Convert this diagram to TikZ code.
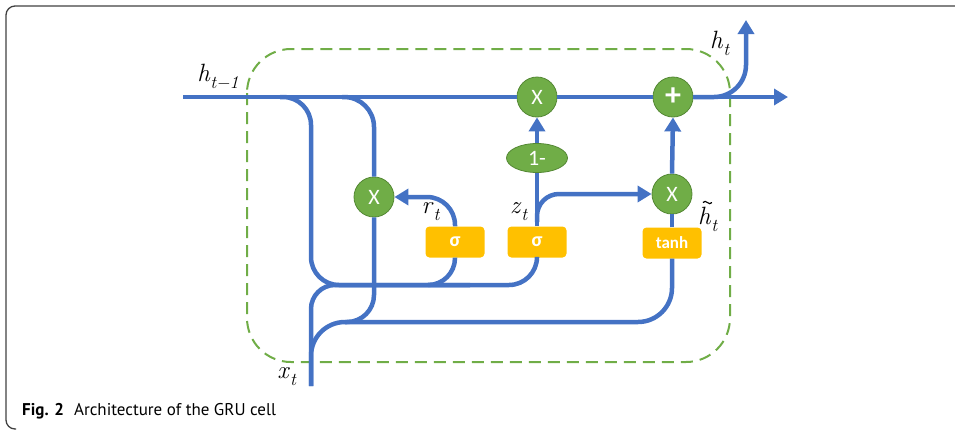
\documentclass[tikz,border=0pt]{standalone}
\usepackage{fontspec}
\usetikzlibrary{arrows.meta,shapes.geometric}
\newfontfamily\capfont{PT Sans}
\newfontfamily\opfont{Carlito}
\definecolor{gruBlue}{RGB}{68,114,196}
\definecolor{gruGreen}{RGB}{112,173,71}
\definecolor{gruGreenDark}{RGB}{84,136,52}
\definecolor{gruOrange}{RGB}{255,192,0}
\newcommand\gvar[2]{\textit{#1}\raisebox{-0.28em}{\fontsize{18}{18}\selectfont\textit{#2}}}
\tikzset{
  wire/.style={line width=4.5pt, gruBlue},
  opnode/.style={circle, fill=gruGreen, draw=gruGreenDark, line width=0.8pt,
    minimum size=40pt, inner sep=0pt, text=white, font=\opfont\fontsize{22}{22}\selectfont},
  opoval/.style={opnode, ellipse, minimum width=61pt, minimum height=29pt},
  gatebox/.style={rectangle, rounded corners=4pt, fill=gruOrange, minimum width=59pt,
    minimum height=31pt, inner sep=0pt, text=white, font=\opfont\bfseries\fontsize{20}{20}\selectfont},
  lab/.style={inner sep=1pt, font=\fontsize{25}{26}\selectfont},
}
\begin{document}
\begin{tikzpicture}[x=1pt, y=-1pt, >={Triangle[length=14pt,width=16pt]}]
    \useasboundingbox (0,0) rectangle (955,429);

    % Cornice e cella
    \draw[black!75, line width=1.3pt, rounded corners=9pt] (16,429) -| (6,6) -- (956,6);
    \draw[gruGreen, line width=2pt, dash pattern=on 12pt off 7pt, rounded corners=44pt]
        (247,49) rectangle (730,362);

    % Coordinate dei punti
    \coordinate (hin) at (183,97);
    \coordinate (hout) at (788,97);
    \coordinate (hup) at (746,20);
    \coordinate (xin) at (311,386);
    \coordinate (hsplitA) at (280,97);
    \coordinate (hsplitB) at (342,97);
    \coordinate (midbus) at (470,285);
    \coordinate (lowbus) at (500,322);
    \coordinate (rhbus) at (345,322);
    \coordinate (zsplit) at (537,222);
    \coordinate (rsplit) at (428,285);

    % Nodi
    \node[opnode] (zx) at (537,97) {X};
    \node[opnode, font=\opfont\bfseries\fontsize{32}{32}\selectfont] (add) at (673,97) {+};
    \node[opnode] (rx) at (374,197) {X};
    \node[opnode] (hx) at (672,194) {X};
    \node[opoval] (onem) at (537,158) {1-};
    \node[gatebox] (sigr) at (455,242) {σ};
    \node[gatebox] (sigz) at (537,242) {σ};
    \node[gatebox, font=\opfont\bfseries\fontsize{17}{18}\selectfont] (tanhbox) at (672,243) {tanh};

    % Linea dello stato
    \draw[wire] (hin) -- (zx);
    \draw[wire] (zx) -- (add);
    \draw[wire, ->] (add) -- (hout);
    \draw[wire, ->, rounded corners=32pt] (add.east) -| (hup);

    % Ingressi verso i gate
    \draw[wire, rounded corners=28pt] (hsplitA) -| (xin |- midbus) -| (sigz.south);
    \draw[wire, rounded corners=24pt] (xin) |- (midbus);
    \draw[wire, rounded corners=27pt] (rsplit) -| (sigr.south);
    \draw[wire, rounded corners=30pt] (hsplitB) -| (rx.north);
    \draw[wire, rounded corners=34pt] (xin) |- (lowbus) -| (tanhbox.south);
    \draw[wire, rounded corners=27pt] (rx.south) |- (rhbus);

    % Uscite dei gate
    \draw[wire, ->, rounded corners=28pt] (sigr.north) |- (rx.east);
    \draw[wire] (sigz.north) -- (onem.south);
    \draw[wire, ->] (onem.north) -- (zx.south);
    \draw[wire, ->, rounded corners=22pt] (zsplit) |- (hx.west);
    \draw[wire] (tanhbox.north) -- (hx.south);
    \draw[wire, ->] (hx.north) -- (add.south);

    % Etichette
    \node[lab] (lhprev) at (218,76) {\gvar{h}{t−1}};
    \node[lab] (lhnext) at (720,43) {\gvar{h}{t}};
    \node[lab] (lr) at (431,212) {\gvar{r}{t}};
    \node[lab] (lz) at (519,212) {\gvar{z}{t}};
    \node[lab] (lhtil) at (708,219) {\gvar{h}{t}};
    \draw[line width=1.2pt] ([xshift=6pt,yshift=3pt]lhtil.north west)
        .. controls +(3pt,4pt) and +(-3pt,-4pt) .. +(9pt,0pt);
    \node[lab] (lx) at (287,377) {\gvar{x}{t}};

    % Didascalia
    \node[anchor=base west, inner sep=0pt, font=\capfont\fontsize{17}{20}\selectfont] (caption)
        at (22,415) {\textbf{Fig. 2}\hspace{10pt}Architecture of the GRU cell};
\end{tikzpicture}
\end{document}
